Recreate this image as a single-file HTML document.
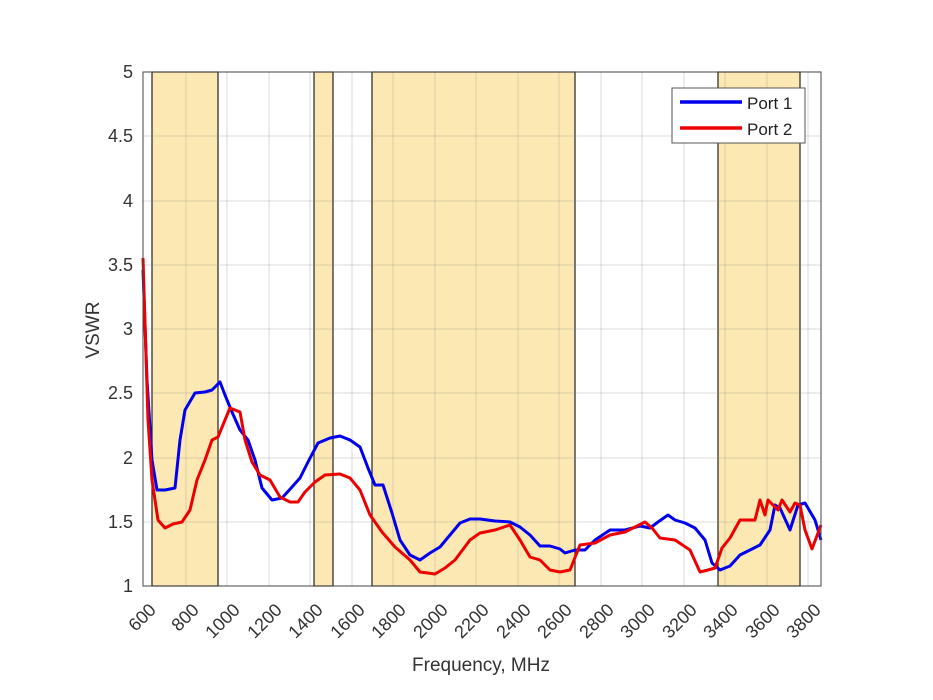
<!DOCTYPE html>
<html><head><meta charset="utf-8"><style>body{margin:0;background:#fff}svg{display:block}</style></head><body>
<svg width="933" height="700" viewBox="0 0 933 700" xmlns="http://www.w3.org/2000/svg" font-family="Liberation Sans, sans-serif">
<rect x="143" y="72" width="678" height="514" fill="#fff"/>
<g fill="#fce8b2" stroke="#222" stroke-width="1.2">
<rect x="152" y="72" width="66" height="514"/>
<rect x="314" y="72" width="19" height="514"/>
<rect x="372" y="72" width="203" height="514"/>
<rect x="718" y="72" width="82" height="514"/>
</g>
<g stroke="#888" stroke-opacity="0.3" stroke-width="1">
<line x1="186" y1="72" x2="186" y2="586"/><line x1="227" y1="72" x2="227" y2="586"/><line x1="269" y1="72" x2="269" y2="586"/><line x1="310" y1="72" x2="310" y2="586"/><line x1="352" y1="72" x2="352" y2="586"/><line x1="393" y1="72" x2="393" y2="586"/><line x1="435" y1="72" x2="435" y2="586"/><line x1="476" y1="72" x2="476" y2="586"/><line x1="518" y1="72" x2="518" y2="586"/><line x1="559" y1="72" x2="559" y2="586"/><line x1="601" y1="72" x2="601" y2="586"/><line x1="642" y1="72" x2="642" y2="586"/><line x1="684" y1="72" x2="684" y2="586"/><line x1="725" y1="72" x2="725" y2="586"/><line x1="767" y1="72" x2="767" y2="586"/><line x1="808" y1="72" x2="808" y2="586"/>
<line x1="143" y1="136" x2="821" y2="136"/><line x1="143" y1="201" x2="821" y2="201"/><line x1="143" y1="265" x2="821" y2="265"/><line x1="143" y1="329" x2="821" y2="329"/><line x1="143" y1="393" x2="821" y2="393"/><line x1="143" y1="458" x2="821" y2="458"/><line x1="143" y1="522" x2="821" y2="522"/>
</g>
<polyline fill="none" stroke="#0000ee" stroke-width="3" stroke-linejoin="round" points="143,270 147,380 152,460 157,490 165,490 175,488 180,440 185,410 195,393 205,392 212,390 220,382 225,395 232,412 240,430 248,440 255,460 262,488 272,500 282,498 292,487 300,478 308,462 318,443 330,438 340,436 350,440 360,447 368,468 375,485 383,485 392,513 400,540 410,555 420,560 430,553 440,547 450,535 460,523 470,519 480,519 495,521 510,522 520,527 530,535 540,546 550,546 560,549 565,553 575,550 585,550 595,540 610,530 625,530 640,526 650,528 658,522 668,515 675,520 685,523 695,528 705,540 712,563 720,570 730,566 740,555 750,550 760,545 770,530 775,505 780,508 790,530 798,505 805,503 815,520 821,540"/>
<polyline fill="none" stroke="#ee0000" stroke-width="3" stroke-linejoin="round" points="143,258 148,420 152,480 158,520 165,528 173,524 182,522 190,510 197,480 205,460 212,440 218,437 225,420 230,408 240,412 245,440 252,462 260,475 270,480 280,497 290,502 298,502 305,492 315,482 325,475 340,474 350,478 360,490 370,515 382,532 395,547 410,560 420,572 435,574 445,568 455,560 470,540 480,533 495,530 510,525 520,540 530,557 540,560 550,570 560,572 570,570 580,545 595,543 610,535 625,532 635,527 645,522 652,528 660,538 675,540 690,550 700,572 708,570 715,568 722,548 730,538 740,520 748,520 755,520 760,500 765,515 768,500 775,507 778,510 782,500 790,512 795,503 800,505 805,530 812,549 821,525"/>
<rect x="143" y="72" width="678" height="514" fill="none" stroke="#444" stroke-width="1"/>
<g font-size="18" fill="#333" text-anchor="end">
<text x="133" y="78">5</text><text x="133" y="142">4.5</text><text x="133" y="207">4</text><text x="133" y="271">3.5</text><text x="133" y="335">3</text><text x="133" y="399">2.5</text><text x="133" y="464">2</text><text x="133" y="528">1.5</text><text x="133" y="592">1</text>
</g>
<g font-size="18" fill="#333" text-anchor="end">
<text transform="translate(157,611) rotate(-45)">600</text>
<text transform="translate(200,611) rotate(-45)">800</text>
<text transform="translate(241,611) rotate(-45)">1000</text>
<text transform="translate(283,611) rotate(-45)">1200</text>
<text transform="translate(324,611) rotate(-45)">1400</text>
<text transform="translate(366,611) rotate(-45)">1600</text>
<text transform="translate(407,611) rotate(-45)">1800</text>
<text transform="translate(449,611) rotate(-45)">2000</text>
<text transform="translate(490,611) rotate(-45)">2200</text>
<text transform="translate(532,611) rotate(-45)">2400</text>
<text transform="translate(573,611) rotate(-45)">2600</text>
<text transform="translate(615,611) rotate(-45)">2800</text>
<text transform="translate(656,611) rotate(-45)">3000</text>
<text transform="translate(698,611) rotate(-45)">3200</text>
<text transform="translate(739,611) rotate(-45)">3400</text>
<text transform="translate(781,611) rotate(-45)">3600</text>
<text transform="translate(822,611) rotate(-45)">3800</text>
</g>
<text x="481" y="671" font-size="19" fill="#333" text-anchor="middle">Frequency, MHz</text>
<text transform="translate(99,330) rotate(-90)" font-size="19" fill="#333" text-anchor="middle">VSWR</text>
<rect x="672" y="88" width="133" height="55" fill="#fff" stroke="#555" stroke-width="1"/>
<line x1="680" y1="102" x2="742" y2="102" stroke="#0000ee" stroke-width="3.5"/>
<line x1="680" y1="128" x2="742" y2="128" stroke="#ee0000" stroke-width="3.5"/>
<text x="747" y="109" font-size="17" fill="#222">Port 1</text>
<text x="747" y="135" font-size="17" fill="#222">Port 2</text>
</svg>
</body></html>
